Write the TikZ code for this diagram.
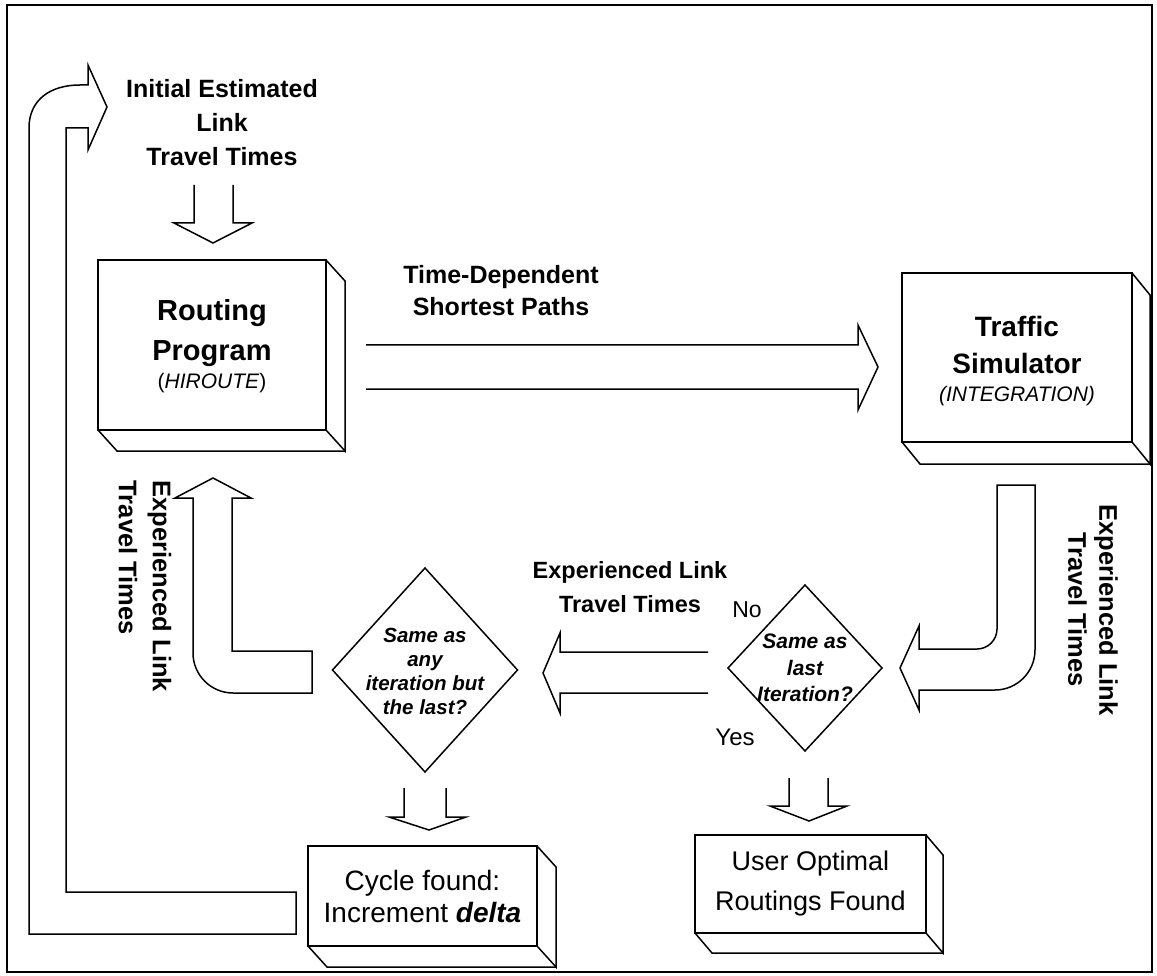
\documentclass[tikz,border=0pt]{standalone}
\usepackage{fontspec}
\setmainfont{Liberation Sans}
\usetikzlibrary{shapes.geometric,calc}
\newcommand{\myextrude}[3]{%
  \draw (#1.north east) -- ++(#2,#3) -- ($(#1.south east)+(#2,#3)$) -- (#1.south east);
  \draw (#1.south west) -- ++(#2,#3) -- ($(#1.south east)+(#2,#3)$);}
\begin{document}
\begin{tikzpicture}[x=1pt,y=-1pt,line width=1.5pt,line join=miter,
  face/.style={draw, inner sep=0pt, outer sep=0pt, align=center},
  txt/.style={inner sep=0pt, align=center},
  boldlbl/.style={txt, font=\fontsize{25}{34}\selectfont\bfseries},
  dtext/.style={txt, font=\fontsize{20.5}{24}\selectfont\bfseries\itshape},
  dia/.style={draw, diamond, inner sep=0pt, outer sep=0pt}]
\useasboundingbox (0,0) rectangle (1157,976);
% frame
\draw[line width=1.8pt] (7,5) rectangle (1152,972);

% ---- boxes
\node[face, minimum width=228pt, minimum height=170pt] (rp) at (212,345) {};
\myextrude{rp}{19}{21}
\node[txt, font=\fontsize{29}{40}\selectfont\bfseries] (rpt) at (212,333) {Routing\\Program};
\node[txt, font=\fontsize{21}{25}\selectfont] (rps) at (212,383) {(\textit{HIROUTE})};

\node[face, minimum width=230pt, minimum height=169pt] (ts) at (1017,357.5) {};
\myextrude{ts}{18}{22}
\node[txt, font=\fontsize{28}{37}\selectfont\bfseries] (tst) at (1017,345) {Traffic\\Simulator};
\node[txt, font=\fontsize{21}{25}\selectfont\itshape] (tss) at (1017,396) {(INTEGRATION)};

\node[face, minimum width=229pt, minimum height=100pt, font=\fontsize{28}{32}\selectfont] (cf) at (422.5,896) {Cycle found:\\Increment \textbf{\textit{delta}}};
\myextrude{cf}{19}{21}

\node[face, minimum width=231pt, minimum height=98pt, font=\fontsize{27}{40}\selectfont] (uo) at (810.5,884) {User Optimal\\Routings Found};
\myextrude{uo}{17}{20}

% ---- diamonds
\node[dia, minimum width=185pt, minimum height=204pt] (d1) at (425,670) {};
\node[dtext] (d1t) at (425,671) {Same as\\any\\iteration but\\the last?};
\node[dia, minimum width=154pt, minimum height=166pt] (d2) at (805,668) {};
\node[dtext, font=\fontsize{21}{26.5}\selectfont\bfseries\itshape] (d2t) at (805,668) {Same as\\last\\Iteration?};

% ---- labels
\node[boldlbl] (init) at (222,123) {Initial Estimated\\Link\\Travel Times};
\node[boldlbl, font=\fontsize{25}{32}\selectfont\bfseries] (tdsp) at (501,291) {Time-Dependent\\Shortest Paths};
\node[boldlbl, font=\fontsize{23.5}{34}\selectfont\bfseries] (eltm) at (630,587) {Experienced Link\\Travel Times};
\node[boldlbl, font=\fontsize{25.5}{31}\selectfont\bfseries, rotate=-90] (eltr) at (1093,610) {Experienced Link\\Travel Times};
\node[boldlbl, font=\fontsize{25.5}{34}\selectfont\bfseries, rotate=-90, align=left, anchor=west] (eltl) at (145,480) {Experienced Link\\Travel Times};
\node[txt, font=\fontsize{23}{27}\selectfont] (no) at (747,610) {No};
\node[txt, font=\fontsize{24}{28}\selectfont] (yes) at (735,737) {Yes};

% ---- block arrows
% big L feedback arrow on the left
\draw (29,934) -- (29,128) .. controls (29,100) and (50,85) .. (80,85) -- (88,85) -- (88,65) -- (107,107)
      -- (88,150) -- (88,128) -- (66,128) -- (66,892) -- (296,892) -- (296,934) -- cycle;
% initial -> routing
\draw (194,185) -- (194,223) -- (174,223) -- (213,243) -- (252,223) -- (233,223) -- (233,185);
% routing -> traffic
\draw (366,345) -- (858,345) -- (858,325) -- (878,367) -- (858,410) -- (858,389) -- (366,389);
% traffic -> diamond 2 (bent)
\draw (997,485) -- (1035,485) -- (1035,650) .. controls (1035,672) and (1017,690) .. (995,690)
      -- (919,690) -- (919,710) -- (900,668) -- (919,626) -- (919,649) -- (977,649)
      .. controls (988,649) and (997,640) .. (997,629) -- cycle;
% diamond 2 -> diamond 1
\draw (708,652) -- (560,652) -- (560,633) -- (543,673) -- (560,713) -- (560,693) -- (708,693);
% diamond 1 -> routing (bent up)
\draw (213,478) -- (251,498) -- (232,498) -- (232,651) -- (312,651) -- (312,693) -- (233,693)
      .. controls (211,693) and (193,675) .. (193,653) -- (193,498) -- (175,498) -- cycle;
% diamond 1 -> cycle found
\draw (404,788) -- (404,817) -- (389,817) -- (429,830) -- (466,817) -- (446,817) -- (446,788);
% diamond 2 -> user optimal
\draw (789,778) -- (789,806) -- (770,806) -- (809,821) -- (847,806) -- (828,806) -- (828,778);
\end{tikzpicture}
\end{document}
